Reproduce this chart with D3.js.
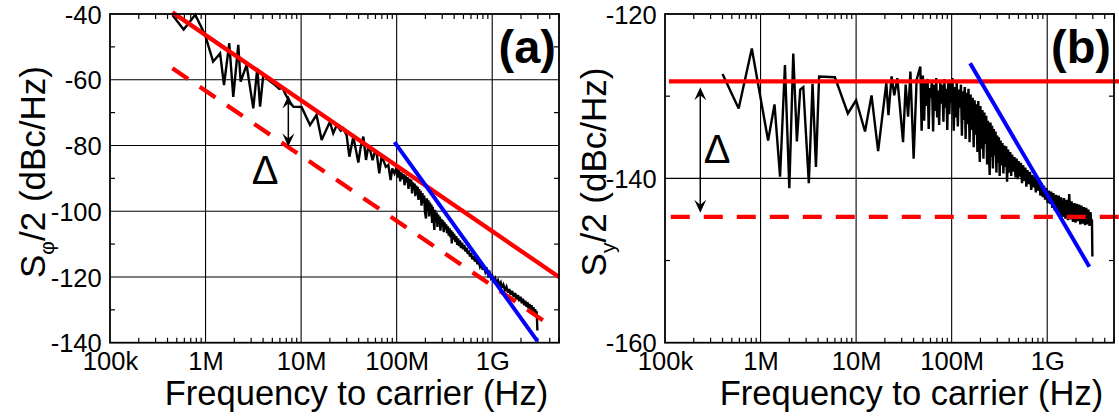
<!DOCTYPE html>
<html><head><meta charset="utf-8">
<script src="https://cdn.jsdelivr.net/npm/d3@7"></script>
<style>body{margin:0;background:#fff} svg{display:block} text{font-family:"Liberation Sans",Arial,Helvetica,sans-serif}</style>
</head><body><svg id="c" width="1119" height="418"></svg>
<script>
// ---------- data ----------
const xTickValues = [1e5, 1e6, 1e7, 1e8, 1e9];
const xTickLabels = ["100k", "1M", "10M", "100M", "1G"];
const yTicksA = [-140, -120, -100, -80, -60, -40];
const yTicksB = [-160, -140, -120];

// measured trace (a): [frequency Hz, dBc/Hz]
const traceA = [
[4.5e5,-40.3],[5.9e5,-44.7],[7.8e5,-40.2],[9.9e5,-46.4],[1.2e6,-54.5],[1.42e6,-52],[1.56e6,-61.6],[1.77e6,-48.9],[1.95e6,-65.2],[2.2e6,-49.4],[2.33e6,-60.6],[2.69e6,-55.5],[3.16e6,-68.7],[3.48e6,-56.5],[3.72e6,-68.2],[4.02e6,-58.5],[4.6e6,-60.2],[5.3e6,-61.5],[5.9e6,-62.8],[6.4e6,-62.5],[6.8e6,-64.2],[7.5e6,-66.5],[8.3e6,-68.2],[1.01e7,-68.3],[1.24e7,-73.8],[1.45e7,-70.7],[1.64e7,-78.3],[2.0e7,-72.8],[2.17e7,-76.3],[2.36e7,-73.8],[2.6e7,-75.5],[2.77e7,-74.8],[3.0e7,-77],[3.2e7,-83.4],[3.52e7,-77.3],[3.97e7,-85.2],[4.2e7,-80.5],[4.48e7,-77.3],[4.78e7,-84.4],[5.0e7,-81],[5.27e7,-81.4],[5.6e7,-84.5],[5.9e7,-82],[6.18e7,-82.4],[6.58e7,-88.5],[6.9e7,-84],[7.24e7,-84.4],[7.7e7,-86.5],[8.18e7,-85.9],[8.65e7,-90.5],[9.0e7,-87],[9.5e7,-88.5],
[1.0e8,-86.5],[1.03e8,-89.8],[1.06e8,-87.4],[1.09e8,-90.9],[1.12e8,-88.2],[1.15e8,-90.2],[1.18e8,-88.7],[1.21e8,-92.1],[1.24e8,-89.1],[1.27e8,-91.3],[1.3e8,-89.6],[1.33e8,-93.2],[1.36e8,-90.1],[1.39e8,-92.4],[1.42e8,-90.4],[1.45e8,-94.6],[1.48e8,-91.2],[1.51e8,-93.5],[1.54e8,-91.6],[1.57e8,-95.4],[1.6e8,-92.2],[1.63e8,-94.8],[1.66e8,-92.6],[1.69e8,-96.6],[1.72e8,-93.3],[1.75e8,-96],[1.78e8,-93.8],[1.82e8,-98.3],[1.86e8,-94.5],[1.9e8,-97.6],[1.94e8,-95.2],[1.98e8,-100.4],[2.03e8,-102.2],[2.07e8,-96.1],[2.11e8,-99.8],[2.15e8,-96.7],[2.19e8,-101.6],[2.23e8,-97.4],[2.27e8,-100.3],[2.31e8,-98],[2.35e8,-103.6],[2.39e8,-98.7],[2.43e8,-101.9],[2.48e8,-105.7],[2.52e8,-99.6],[2.57e8,-103.2],[2.62e8,-100.4],[2.67e8,-104.8],[2.72e8,-101],[2.77e8,-103.7],[2.82e8,-101.6],[2.87e8,-105.9],[2.93e8,-102.3],[2.99e8,-104.6],[3.05e8,-102.8],[3.11e8,-106.4],[3.17e8,-103.4],[3.23e8,-105.5],[3.3e8,-104],[3.37e8,-106.7],[3.44e8,-104.6],[3.51e8,-107.4],[3.58e8,-105.2],[3.65e8,-107.9],[3.72e8,-105.8],[3.77e8,-109.8],[3.84e8,-106.3],[3.92e8,-108.6],[4.0e8,-106.9],[4.1e8,-109.3],[4.2e8,-107.6],[4.3e8,-110.2],[4.4e8,-108.3],[4.5e8,-110.6],[4.6e8,-108.9],[4.72e8,-111.2],[4.84e8,-109.6],[4.96e8,-111.6],[5.1e8,-110.3],[5.25e8,-112.3],[5.4e8,-111.1],[5.55e8,-113],[5.7e8,-111.9],[5.85e8,-113.8],[6.0e8,-112.8],[6.2e8,-114.6],[6.4e8,-113.6],[6.6e8,-115.3],[6.8e8,-114.4],[7.0e8,-116.1],[7.2e8,-115.2],[7.45e8,-116.9],[7.7e8,-116],[7.95e8,-117.8],[8.2e8,-116.9],[8.5e8,-118.6],[8.8e8,-117.8],[9.1e8,-119.5],[9.4e8,-118.7],[9.7e8,-120.3],[1.0e9,-119.6],[1.03e9,-121.1],[1.07e9,-120.3],[1.11e9,-121.9],[1.15e9,-121],[1.19e9,-122.6],[1.23e9,-121.7],[1.27e9,-123.3],[1.31e9,-122.4],[1.36e9,-124],[1.41e9,-123],[1.46e9,-124.7],[1.51e9,-123.7],[1.56e9,-125.4],[1.62e9,-124.3],[1.68e9,-126.1],[1.74e9,-124.9],[1.8e9,-126.8],[1.86e9,-125.5],[1.92e9,-127.4],[1.98e9,-126],[2.04e9,-128],[2.1e9,-126.6],[2.16e9,-128.6],[2.22e9,-127.2],[2.28e9,-129.1],[2.34e9,-127.7],[2.4e9,-129.6],[2.46e9,-128.2],[2.52e9,-130.1],[2.58e9,-128.6],[2.64e9,-130.6],[2.7e9,-129.2],[2.76e9,-131],[2.82e9,-129.8],[2.87e9,-131.6],[2.91e9,-130.4],[2.94e9,-132.5],[2.97e9,-136.3]
];

// measured trace (b): [frequency Hz, dBc/Hz]
const traceB = [
[4.0e5,-127.3],[5.9e5,-131.5],[8.1e5,-124.2],[1.2e6,-135.4],[1.4e6,-131],[1.6e6,-139.8],[1.8e6,-126.2],[2.0e6,-141.2],[2.2e6,-124.8],[2.4e6,-135.5],[2.6e6,-129.2],[2.8e6,-128.9],[3.2e6,-140.6],[3.5e6,-128.5],[3.8e6,-138.6],[4.1e6,-127.6],[6.0e6,-127.7],[8.2e6,-132.1],[1.0e7,-130.5],[1.24e7,-134.3],[1.45e7,-129.9],[1.7e7,-136.7],[2.07e7,-128.4],[2.18e7,-132.3],[2.35e7,-127.6],[2.51e7,-129.9],[2.7e7,-127.8],[3.1e7,-135.6],[3.3e7,-128.6],[3.5e7,-132.5],[3.7e7,-127],[4.0e7,-137.6],[4.3e7,-128],[4.7e7,-126.4],[4.85e7,-134.2],
[5.0e7,-127.5],[5.15e7,-133],[5.3e7,-128.3],[5.45e7,-131.2],[5.6e7,-127.9],[5.75e7,-134],[5.9e7,-129],[6.05e7,-130.2],[6.2e7,-128.1],[6.4e7,-134.3],[6.55e7,-128.6],[6.7e7,-131.8],[6.9e7,-127.8],[7.05e7,-132.6],[7.2e7,-129.3],[7.4e7,-133.5],[7.6e7,-128.2],[7.8e7,-130.9],[8.0e7,-128.6],[8.2e7,-133.1],[8.4e7,-127.9],[8.6e7,-131.4],[8.8e7,-129.1],[9.0e7,-134.1],[9.2e7,-128.4],[9.45e7,-132.2],[9.7e7,-128.1],[1.0e8,-130.8],[1.02e8,-127.8],[1.05e8,-134.2],[1.08e8,-128.9],[1.1e8,-132.6],[1.13e8,-128.3],[1.16e8,-133.7],[1.19e8,-129.2],[1.22e8,-131.4],[1.25e8,-128.6],[1.28e8,-134.8],[1.31e8,-129.4],[1.34e8,-132.9],[1.37e8,-128.9],[1.4e8,-135.2],[1.43e8,-129.6],[1.46e8,-133.4],[1.5e8,-129.1],[1.54e8,-135.6],[1.58e8,-129.8],[1.62e8,-134.1],[1.66e8,-130.2],[1.7e8,-136.2],[1.74e8,-130.5],[1.78e8,-134.7],[1.82e8,-131],[1.86e8,-136.8],[1.9e8,-130.6],[1.94e8,-135.3],[1.97e8,-138],[2.0e8,-131.2],[2.05e8,-136.4],[2.1e8,-131.7],[2.15e8,-137.6],[2.2e8,-132],[2.25e8,-135.8],[2.3e8,-132.4],[2.35e8,-138.3],[2.4e8,-133],[2.45e8,-136.7],[2.5e8,-139.6],[2.55e8,-133.2],[2.6e8,-137.4],[2.65e8,-133.6],[2.7e8,-138.8],[2.76e8,-134],[2.82e8,-137.2],[2.88e8,-134.3],[2.94e8,-139.3],[3.0e8,-134.8],[3.06e8,-138.1],[3.12e8,-135],[3.18e8,-139.7],[3.25e8,-135.4],[3.32e8,-138.4],[3.4e8,-135.7],[3.48e8,-139.4],[3.56e8,-136],[3.64e8,-138.6],[3.72e8,-136.1],[3.8e8,-140.4],[3.9e8,-136.5],[4.0e8,-139.3],[4.1e8,-136.8],[4.2e8,-139.7],[4.3e8,-137.1],[4.42e8,-139.2],[4.54e8,-137.4],[4.66e8,-139.9],[4.78e8,-137.6],[4.9e8,-140.1],[5.02e8,-137.9],[5.15e8,-139.8],[5.3e8,-138.1],[5.45e8,-140.6],[5.6e8,-138.4],[5.75e8,-140.3],[5.9e8,-138.7],[6.05e8,-141],[6.2e8,-139],[6.4e8,-140.7],[6.6e8,-139.2],[6.8e8,-141.4],[7.0e8,-139.6],[7.2e8,-141.1],[7.4e8,-139.8],[7.6e8,-141.7],[7.8e8,-140.1],[8.0e8,-141.5],[8.25e8,-140.3],[8.5e8,-142.1],[8.75e8,-140.6],[9.0e8,-142.3],[9.25e8,-140.9],[9.5e8,-142.6],[9.8e8,-141.2],[1.01e9,-143],[1.04e9,-141.5],[1.07e9,-143.1],[1.1e9,-141.6],[1.13e9,-143.6],[1.16e9,-141.8],[1.2e9,-143.9],[1.24e9,-142],[1.28e9,-144.2],[1.32e9,-142.1],[1.36e9,-144.5],[1.4e9,-142.3],[1.45e9,-144.7],[1.5e9,-142.4],[1.55e9,-144.9],[1.6e9,-142.6],[1.65e9,-145.1],[1.7e9,-141.9],[1.75e9,-145],[1.8e9,-142.8],[1.86e9,-145.3],[1.92e9,-143],[1.98e9,-145.4],[2.04e9,-143.1],[2.1e9,-145.2],[2.16e9,-143.2],[2.22e9,-145.6],[2.28e9,-143.3],[2.35e9,-145.5],[2.42e9,-143.5],[2.49e9,-145.7],[2.56e9,-143.6],[2.63e9,-145.6],[2.7e9,-143.8],[2.77e9,-145.8],[2.84e9,-144.1],[2.9e9,-145.6],[2.94e9,-145],[2.97e9,-149.5]
];

// guide lines
const redSolidA = [[4.5e5,-39.5],[5e9,-120]];
const redDashA  = [[4.5e5,-56.5],[3.87e9,-134.3]];
const blueA     = [[9.5e7,-79],[2.97e9,-139.5]];
const redSolidB = [[1.1e5,-128.2],[5.7e9,-128.2]];
const redDashB  = [[1.15e5,-144.7],[5.7e9,-144.7]];
const blueB     = [[1.56e8,-126],[2.76e9,-150.75]];
const arrowA = [[7.35e6,-64.8],[7.35e6,-80.3]];
const arrowB = [[2.34e5,-128.9],[2.34e5,-144.2]];
const deltaA = [4.19e6,-91.7];
const deltaB = [3.5e5,-138.1];

// ---------- drawing ----------
const svg = d3.select("#c");
const TOP = 14, BOT = 342.7;

function panel(o) {
  const g = svg.append("g");
  const x = d3.scaleLog().domain([1e5, 5e9]).range([o.x0, o.x1]);
  const y = d3.scaleLinear().domain(o.yDom).range([BOT, TOP]);

  // grid
  xTickValues.slice(1).forEach(v => g.append("line")
    .attr("x1", x(v)).attr("x2", x(v)).attr("y1", TOP).attr("y2", BOT)
    .attr("stroke", "#000").attr("stroke-width", 1.1));
  o.gridY.forEach(v => g.append("line")
    .attr("x1", o.x0).attr("x2", o.x1).attr("y1", y(v)).attr("y2", y(v))
    .attr("stroke", "#000").attr("stroke-width", 1.1));

  // minor x ticks (top & bottom, inward)
  const minors = [];
  [1e5, 1e6, 1e7, 1e8, 1e9].forEach(d => { for (let k = 2; k <= 9; k++) if (k * d <= 5e9) minors.push(k * d); });
  minors.forEach(v => {
    g.append("line").attr("x1", x(v)).attr("x2", x(v)).attr("y1", BOT).attr("y2", BOT - 5).attr("stroke", "#000").attr("stroke-width", 1.2);
    g.append("line").attr("x1", x(v)).attr("x2", x(v)).attr("y1", TOP).attr("y2", TOP + 5).attr("stroke", "#000").attr("stroke-width", 1.2);
  });
  // minor y ticks (left & right, inward)
  o.minorY.forEach(v => {
    g.append("line").attr("x1", o.x0).attr("x2", o.x0 + 5).attr("y1", y(v)).attr("y2", y(v)).attr("stroke", "#000").attr("stroke-width", 1.2);
    g.append("line").attr("x1", o.x1).attr("x2", o.x1 - 5).attr("y1", y(v)).attr("y2", y(v)).attr("stroke", "#000").attr("stroke-width", 1.2);
  });

  // data trace
  const line = d3.line().x(d => x(d[0])).y(d => y(d[1]));
  g.append("path").datum(o.trace).attr("d", line)
    .attr("fill", "none").attr("stroke", "#000").attr("stroke-width", 2.4).attr("stroke-linejoin", "miter").attr("stroke-miterlimit", 3);

  // guide lines
  g.append("path").datum(o.redDash).attr("d", line).attr("fill", "none")
    .attr("stroke", "#ff0000").attr("stroke-width", 4.3).attr("stroke-dasharray", "19,14");
  g.append("path").datum(o.redSolid).attr("d", line).attr("fill", "none")
    .attr("stroke", "#ff0000").attr("stroke-width", 4.3);
  g.append("path").datum(o.blue).attr("d", line).attr("fill", "none")
    .attr("stroke", "#0000ff").attr("stroke-width", 4);

  // frame
  g.append("rect").attr("x", o.x0).attr("y", TOP).attr("width", o.x1 - o.x0).attr("height", BOT - TOP)
    .attr("fill", "none").attr("stroke", "#000").attr("stroke-width", 1.8);

  // axes (labels only)
  const ax = g.append("g").attr("transform", `translate(0,${BOT})`)
    .call(d3.axisBottom(x).tickValues(xTickValues).tickFormat((d, i) => xTickLabels[i]).tickSize(0).tickPadding(9.5));
  const ay = g.append("g").attr("transform", `translate(${o.x0},0)`)
    .call(d3.axisLeft(y).tickValues(o.yTicks).tickFormat(d => String(d)).tickSize(0).tickPadding(8.3));
  [ax, ay].forEach(a => {
    a.select(".domain").remove();
    a.selectAll("text").attr("font-size", 25.5).attr("fill", "#000").attr("font-family", '"Liberation Sans",Arial,sans-serif');
  });
  ay.selectAll("text").attr("dy", "0.36em");

  // arrow (double-headed)
  const ax0 = x(o.arrow[0][0]), ya = y(o.arrow[0][1]), yb = y(o.arrow[1][1]);
  g.append("line").attr("x1", ax0).attr("x2", ax0).attr("y1", ya + 3).attr("y2", yb - 3)
    .attr("stroke", "#000").attr("stroke-width", 1.5);
  const head = (tx, ty, dir) => `M${tx},${ty} L${tx - 6},${ty + dir * 13} L${tx},${ty + dir * 8} L${tx + 6},${ty + dir * 13} Z`;
  g.append("path").attr("d", head(ax0, ya, 1)).attr("fill", "#000");
  g.append("path").attr("d", head(ax0, yb, -1)).attr("fill", "#000");

  // delta
  g.append("text").attr("x", x(o.delta[0])).attr("y", y(o.delta[1])).attr("text-anchor", "middle")
    .attr("font-size", 40).text("Δ");

  // panel label
  g.append("text").attr("x", o.x1 - 3).attr("y", 63).attr("text-anchor", "end")
    .attr("font-size", 47).attr("font-weight", "bold").text(o.label);

  // x title
  g.append("text").attr("x", (o.x0 + o.x1) / 2 + 22).attr("y", 405).attr("text-anchor", "middle")
    .attr("font-size", 34.5).text("Frequency to carrier (Hz)");

  // y title
  const yt = g.append("text").attr("transform", `translate(${o.titleX},172) rotate(-90)`)
    .attr("text-anchor", "middle").attr("font-size", 35);
  yt.append("tspan").text("S");
  yt.append("tspan").attr("font-size", 21).attr("dy", 9).text(o.sub);
  yt.append("tspan").attr("dy", -9).text("/2 (dBc/Hz)");
}

panel({ x0: 110, x1: 559, yDom: [-140, -40], yTicks: yTicksA, gridY: [-60, -80, -100, -120],
  minorY: [-50, -70, -90, -110, -130], trace: traceA, redSolid: redSolidA, redDash: redDashA, blue: blueA,
  arrow: arrowA, delta: deltaA, label: "(a)", sub: "φ", titleX: 45 });
panel({ x0: 665, x1: 1114, yDom: [-160, -120], yTicks: yTicksB, gridY: [-140],
  minorY: [-130, -150], trace: traceB, redSolid: redSolidB, redDash: redDashB, blue: blueB,
  arrow: arrowB, delta: deltaB, label: "(b)", sub: "y", titleX: 606 });
</script></body></html>
